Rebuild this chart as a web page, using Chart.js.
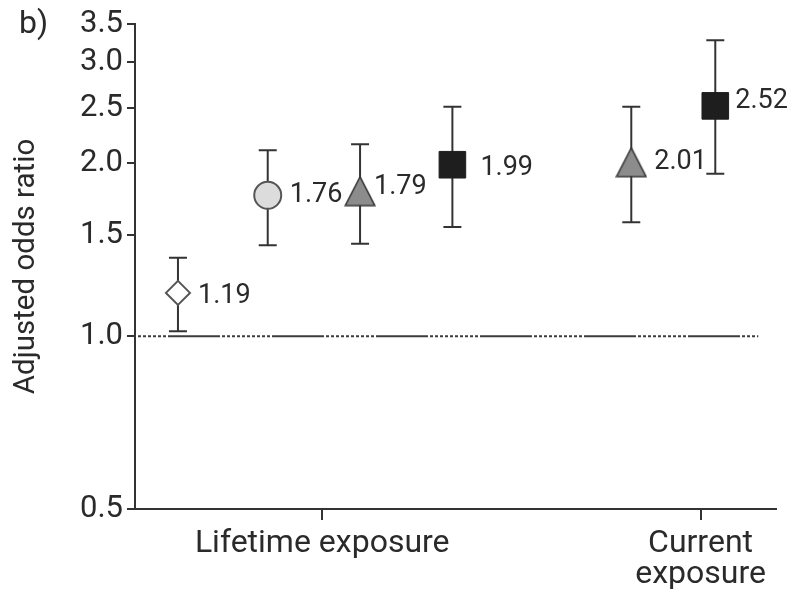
<!DOCTYPE html>
<html>
<head>
<meta charset="utf-8">
<script src="https://cdn.jsdelivr.net/npm/chart.js@4.4.1/dist/chart.umd.min.js"></script>
<style>
  html, body { margin: 0; padding: 0; background: #ffffff; }
  #wrap { position: relative; width: 796px; height: 596px; }
  #panel { position: absolute; left: 19px; top: 7px; font-family: Roboto, "Liberation Sans", sans-serif; font-size: 32px; line-height: 30px; color: #2a2a2a; }
</style>
</head>
<body>
<div id="wrap">
  <canvas id="c" width="796" height="596"></canvas>
  <div id="panel">b)</div>
</div>
<script>
// ---- data ----
const categories = ['Lifetime exposure', 'Current exposure'];
const categoryLabels = [['Lifetime exposure'], ['Current', 'exposure']];
const groupOfPoint = [0, 0, 0, 0, 1, 1];
const markerType = ['diamond', 'circle', 'triangle', 'square', 'triangle', 'square'];
const oddsRatio = [1.19, 1.76, 1.79, 1.99, 2.01, 2.52];
const ciLower = [1.02, 1.44, 1.45, 1.55, 1.58, 1.92];
const ciUpper = [1.37, 2.11, 2.16, 2.51, 2.51, 3.28];
const yTicks = [0.5, 1.0, 1.5, 2.0, 2.5, 3.0, 3.5];
const referenceValue = 1.0;

// ---- layout / style (not data) ----
const layout = {
  pointX: [0.67, 2.07, 3.51, 4.95, 7.74, 9.05],
  groupX: [2.92, 8.82],
  refLineEnd: 9.72,
  labelDx: [20, 22, 14, 28, 23, 20],
  labelDy: [3, 0, -4, 4, 0, -5]
};
const FONT = 'Roboto, "Liberation Sans", sans-serif';
const TXT = '#2a2a2a';
const AX = '#333333';

function triangleCanvas() {
  const c = document.createElement('canvas');
  c.width = 32; c.height = 31;
  const g = c.getContext('2d');
  g.beginPath();
  g.moveTo(16, 1.2); g.lineTo(30.8, 29.8); g.lineTo(1.2, 29.8); g.closePath();
  g.fillStyle = '#8c8c8c'; g.fill();
  g.lineWidth = 1.6; g.strokeStyle = '#3a3a3a'; g.stroke();
  return c;
}
const triImg = triangleCanvas();

const styleFor = {
  diamond:  { pointStyle: 'rectRot', radius: 12, bg: '#ffffff', border: '#555555', bw: 2 },
  circle:   { pointStyle: 'circle', radius: 13.5, bg: '#dcdcdc', border: '#555555', bw: 2 },
  triangle: { pointStyle: triImg, radius: 16, bg: '#8c8c8c', border: '#3a3a3a', bw: 1 },
  square:   { pointStyle: 'rect', radius: 18.8, bg: '#1e1e1e', border: '#1e1e1e', bw: 1 }
};

const markerData = oddsRatio.map((v, i) => ({ x: layout.pointX[i], y: v }));
const errData = [];
oddsRatio.forEach((v, i) => {
  errData.push({ x: layout.pointX[i], y: ciLower[i] });
  errData.push({ x: layout.pointX[i], y: ciUpper[i] });
  errData.push({ x: layout.pointX[i], y: null });
});

const valueLabels = {
  id: 'valueLabels',
  afterDatasetsDraw(chart) {
    const ctx = chart.ctx;
    const meta = chart.getDatasetMeta(0);
    ctx.save();
    ctx.font = '27px ' + FONT;
    ctx.fillStyle = TXT;
    ctx.textAlign = 'left';
    ctx.textBaseline = 'middle';
    meta.data.forEach((el, i) => {
      ctx.fillText(oddsRatio[i].toFixed(2), el.x + layout.labelDx[i], el.y + layout.labelDy[i]);
    });
    ctx.restore();
  }
};

new Chart(document.getElementById('c'), {
  type: 'scatter',
  data: {
    datasets: [
      {
        label: 'Adjusted odds ratio',
        data: markerData,
        order: 0,
        pointStyle: ctx => styleFor[markerType[ctx.dataIndex]].pointStyle,
        pointRadius: ctx => styleFor[markerType[ctx.dataIndex]].radius,
        pointBackgroundColor: ctx => styleFor[markerType[ctx.dataIndex]].bg,
        pointBorderColor: ctx => styleFor[markerType[ctx.dataIndex]].border,
        pointBorderWidth: ctx => styleFor[markerType[ctx.dataIndex]].bw,
        showLine: false
      },
      {
        label: '95% CI',
        type: 'line',
        data: errData,
        order: 1,
        borderColor: AX,
        borderWidth: 2,
        pointStyle: 'line',
        pointRadius: 9,
        pointBorderWidth: 2,
        pointBorderColor: AX,
        spanGaps: false,
        fill: false
      },
      {
        label: 'Reference',
        type: 'line',
        data: [{ x: 0, y: referenceValue }, { x: layout.refLineEnd, y: referenceValue }],
        order: 2,
        borderColor: '#3c3c3c',
        borderWidth: 2,
        borderDash: [52, 2, 3, 2, 3, 2, 3, 2, 3, 2, 3, 2, 3, 2, 3, 2, 3, 2, 3, 2, 3, 2],
        borderDashOffset: 71,
        pointRadius: 0,
        fill: false
      }
    ]
  },
  options: {
    responsive: false,
    animation: false,
    devicePixelRatio: 1,
    events: [],
    layout: { padding: { left: 0, right: 18, top: 24, bottom: 0 } },
    plugins: { legend: { display: false }, tooltip: { enabled: false }, title: { display: false } },
    scales: {
      x: {
        type: 'linear',
        min: 0, max: 10,
        afterBuildTicks: s => { s.ticks = layout.groupX.map(v => ({ value: v })); },
        afterFit: s => { s.height = 87; },
        ticks: {
          autoSkip: false, maxRotation: 0, minRotation: 0, padding: 8,
          callback: (v, i) => categoryLabels[i],
          font: { family: FONT, size: 32, lineHeight: 0.97 },
          color: TXT
        },
        grid: { drawOnChartArea: false, drawTicks: true, tickLength: 11, color: AX, lineWidth: 2 },
        border: { display: true, color: AX, width: 2 }
      },
      y: {
        type: 'logarithmic',
        min: 0.5, max: 3.5,
        afterBuildTicks: s => { s.ticks = yTicks.map(v => ({ value: v })); },
        afterFit: s => { s.width = 135; },
        ticks: {
          autoSkip: false, padding: 4,
          callback: v => Number(v).toFixed(1),
          font: { family: FONT, size: 31 },
          color: TXT
        },
        grid: { drawOnChartArea: false, drawTicks: true, tickLength: 8, color: AX, lineWidth: 2 },
        border: { display: true, color: AX, width: 2 },
        title: {
          display: true, text: 'Adjusted odds ratio',
          font: { family: FONT, size: 29.5 }, color: TXT,
          padding: { top: 9, bottom: 0 }
        }
      }
    }
  },
  plugins: [valueLabels]
});
</script>
</body>
</html>
